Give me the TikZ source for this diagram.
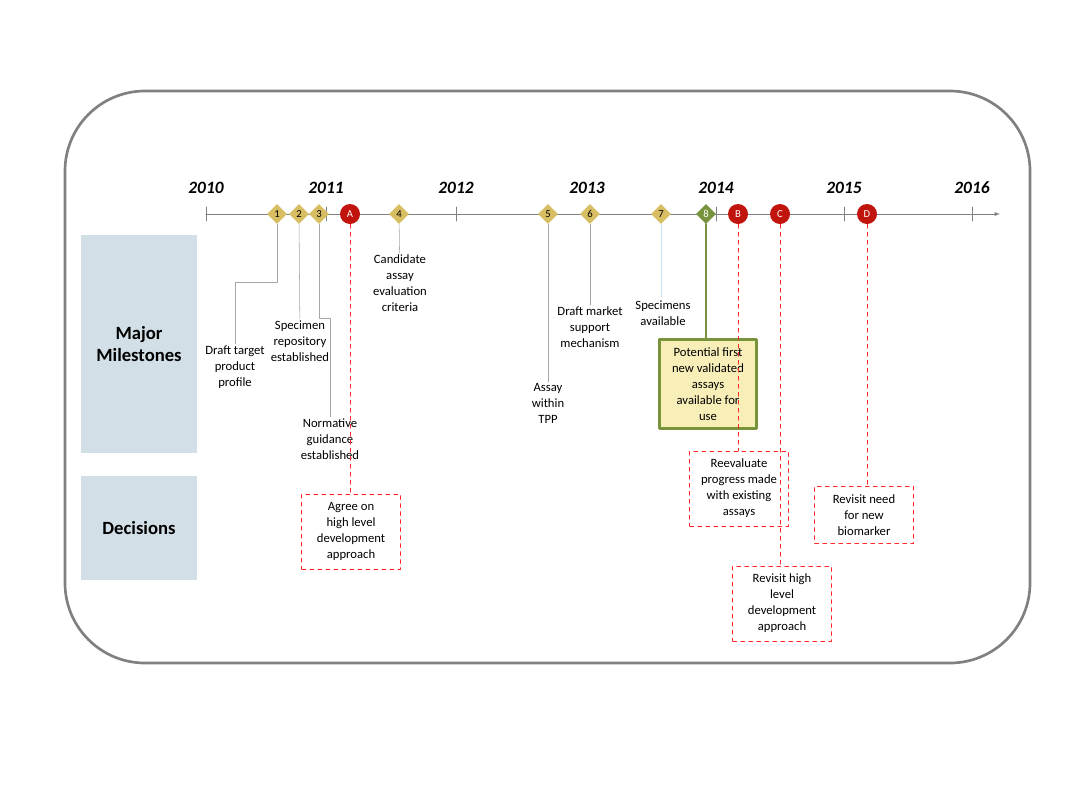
\documentclass[tikz,border=0pt]{standalone}
\usepackage{fontspec}
\setmainfont{Carlito}
\usetikzlibrary{shapes.geometric}
\definecolor{gold}{HTML}{D8BE62}
\definecolor{leaf}{HTML}{77933C}
\definecolor{cream}{HTML}{F8EEB8}
\definecolor{mist}{HTML}{D2DFE6}
\definecolor{dred}{HTML}{C0140C}
\begin{document}
\begin{tikzpicture}[line cap=round,line join=round,x=0.75pt,y=-0.75pt,
  txt/.style={align=center,font=\fontsize{9.5}{12}\selectfont,inner sep=1pt},
  yr/.style={font=\fontsize{13}{15}\selectfont\bfseries\itshape},
  gem/.style={diamond,fill=gold,inner sep=0pt,minimum size=15pt,font=\fontsize{8}{9}\selectfont},
  dot/.style={circle,fill=dred,text=white,inner sep=0pt,minimum size=15pt,font=\fontsize{8}{9}\selectfont},
  lead/.style={draw=gray!70,thin},
  redline/.style={draw=red!85,dashed,thin},
  dbox/.style={txt,draw=red!85,dashed,minimum width=74pt,inner sep=3pt},
  band/.style={fill=mist,font=\fontsize{14}{17}\selectfont\bfseries,align=center}
  ]
  \useasboundingbox (0,0) rectangle (1067,800);
  % frame
  \draw[gray,line width=2pt,rounded corners=60pt] (65,91) rectangle (1030,663);
  % bands
  \node[band,minimum width=87pt,minimum height=163pt] (mm) at (139,344) {Major\\Milestones};
  \node[band,minimum width=87pt,minimum height=78pt] (dec) at (139,528) {Decisions};
  % axis
  \coordinate (s) at (206,214);
  \coordinate (e) at (1000,214);
  \draw[gray,-latex] (s) -- (e);
  \foreach \x/\y in {206/2010,326/2011,456/2012,587/2013,716/2014,844/2015,972/2016}{
    \draw[gray] (\x,207) -- (\x,221);
    \node[yr] at (\x,188) {\y};
  }
  % milestones
  \node[gem] (m1) at (277,214) {1};
  \node[gem] (m2) at (299,214) {2};
  \node[gem] (m3) at (319,214) {3};
  \node[gem] (m4) at (399,214) {4};
  \node[gem] (m5) at (548,214) {5};
  \node[gem] (m6) at (590,214) {6};
  \node[gem] (m7) at (661,214) {7};
  \node[gem,fill=leaf,text=white] (m8) at (706,214) {8};
  % decisions
  \node[dot] (dA) at (350,214) {A};
  \node[dot] (dB) at (738,214) {B};
  \node[dot] (dC) at (780,214) {C};
  \node[dot] (dD) at (867,214) {D};
  % milestone texts
  \node[txt,anchor=north] (t1) at (235,344) {Draft target\\product\\profile};
  \node[txt,anchor=north] (t2) at (300,319) {Specimen\\repository\\established};
  \node[txt,anchor=north] (t3) at (330,417) {Normative\\guidance\\established};
  \node[txt,anchor=north] (t4) at (400,253) {Candidate\\assay\\evaluation\\criteria};
  \node[txt,anchor=north] (t5) at (548,382) {Assay\\within\\TPP};
  \node[txt,anchor=north] (t6) at (590,305) {Draft market\\support\\mechanism};
  \node[txt,anchor=north] (t7) at (663,299) {Specimens\\available};
  \node[txt,draw=leaf,line width=2pt,fill=cream,minimum width=73pt,minimum height=67pt,anchor=north] (t8) at (708,338) {Potential first\\new validated\\assays\\available for\\use};
  % leaders
  \draw[lead] (m1) -- (277,282) -| (t1);
  \draw[lead] (m2) -- (t2);
  \draw[lead] (m3) -- (319,318) -| (t3);
  \draw[lead] (m4) -- (t4);
  \draw[lead] (m5) -- (t5);
  \draw[lead] (m6) -- (t6);
  \draw[lead,draw=gray!40!cyan!30] (m7) -- (661,297);
  \draw[leaf,line width=2pt] (m8) -- (t8.north -| m8);
  % decision boxes
  \node[dbox,minimum height=56pt,anchor=north] (bA) at (351,494) {Agree on\\high level\\development\\approach};
  \node[dbox,minimum height=56pt,anchor=north] (bB) at (739,451) {Reevaluate\\progress made\\with existing\\assays};
  \node[dbox,minimum height=56pt,anchor=north] (bC) at (782,566) {Revisit high\\level\\development\\approach};
  \node[dbox,minimum height=43pt,anchor=north] (bD) at (864,486) {Revisit need\\for new\\biomarker};
  \draw[redline] (dA) -- (dA |- bA.north);
  \draw[redline] (dB) -- (dB |- bB.north);
  \draw[redline] (dC) -- (dC |- bC.north);
  \draw[redline] (dD) -- (dD |- bD.north);
\end{tikzpicture}
\end{document}
